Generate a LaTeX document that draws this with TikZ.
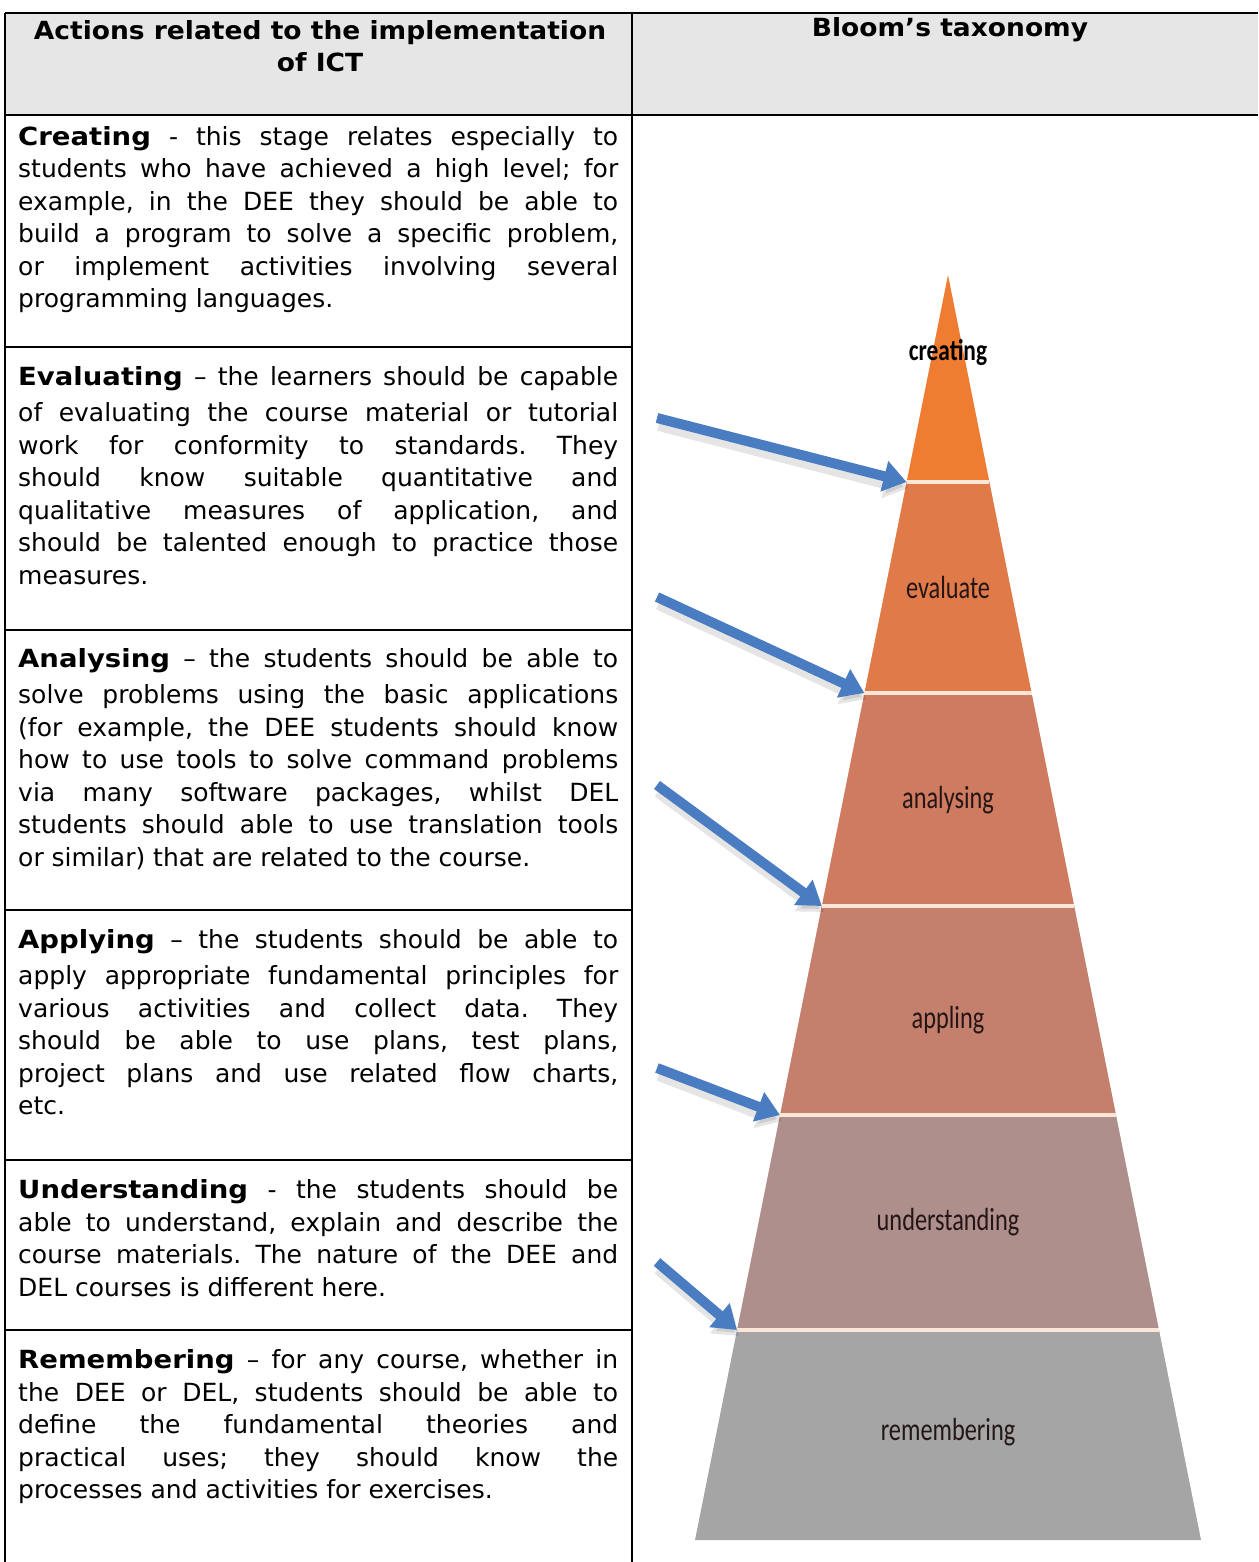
\documentclass[tikz,border=0pt]{standalone}
\usepackage{fontspec}
\setmainfont{DejaVu Sans}
\newfontfamily\lblfont{Carlito}
\usetikzlibrary{arrows.meta}
\definecolor{hdrgray}{HTML}{E6E6E6}
\definecolor{cCreate}{HTML}{EE7D32}
\definecolor{cEval}{HTML}{E07A49}
\definecolor{cAnal}{HTML}{CF7B60}
\definecolor{cAppl}{HTML}{C5806D}
\definecolor{cUnder}{HTML}{AF8F8C}
\definecolor{cRemem}{HTML}{A5A5A5}
\definecolor{sepline}{HTML}{FBE6D8}
\definecolor{arrowblue}{HTML}{4A7CC1}
\definecolor{lbltext}{HTML}{241616}
\frenchspacing
\newcommand\jline[1]{\makebox[600pt][s]{#1}}
\newcommand\lline[1]{\makebox[600pt][l]{#1}}
\newcommand\bw[1]{\scalebox{1.1}[1]{\textbf{#1}}}
\newcommand\hw[1]{\scalebox{1.06}[1]{#1}}
\tikzset{
  rule/.style={line width=2pt, black},
  body/.style={inner sep=0pt, anchor=north west, align=left, font=\fontsize{25}{32.5}\selectfont},
  hdr/.style={inner sep=0pt, align=center, font=\bfseries\fontsize{25}{32.5}\selectfont},
  lvl/.style={inner sep=0pt, text=lbltext, font=\lblfont\fontsize{32}{34}\selectfont},
  blarrow/.style={line width=10pt, arrowblue, -{Triangle[width=30pt,length=23pt]}},
  shadowarrow/.style={line width=14pt, black, opacity=0.10, -{Triangle[width=32pt,length=24pt]}}
}
\begin{document}
\begin{tikzpicture}[x=1pt,y=-1pt]
\useasboundingbox (0,0) rectangle (1258,1562);
\fill[white] (0,0) rectangle (1258,1562);
% header background
\fill[hdrgray] (5,13) rectangle (1258,115);
% table rules
\draw[rule] (5,13) -- (1258,13);
\draw[rule] (5,115) -- (1258,115);
\draw[rule] (5,13) -- (5,1562);
\draw[rule] (632,13) -- (632,1562);
\foreach \yy in {347,630,910,1160,1330} \draw[rule] (5,\yy) -- (632,\yy);

% header text
\node[hdr] (h1) at (320,46) {\hw{Actions related to the implementation}\\\hw{of ICT}};
\node[hdr] (h2) at (950,30) {\hw{Bloom’s taxonomy}};

% body text
\node[body] (tCreate) at (18,126) {%
\jline{\bw{Creating} - this stage relates especially to}\\
\jline{students who have achieved a high level; for}\\
\jline{example, in the DEE they should be able to}\\
\jline{build a program to solve a specific problem,}\\
\jline{or implement activities involving several}\\
\lline{programming languages.}};

\node[body] (tEval) at (18,366.5) {%
\jline{\bw{Evaluating} – the learners should be capable}\\[3.5pt]
\jline{of evaluating the course material or tutorial}\\
\jline{work for conformity to standards. They}\\
\jline{should know suitable quantitative and}\\
\jline{qualitative measures of application, and}\\
\jline{should be talented enough to practice those}\\
\lline{measures.}};

\node[body] (tAnal) at (18,648.5) {%
\jline{\bw{Analysing} – the students should be able to}\\[3.5pt]
\jline{solve problems using the basic applications}\\
\jline{(for example, the DEE students should know}\\
\jline{how to use tools to solve command problems}\\
\jline{via many software packages, whilst DEL}\\
\jline{students should able to use translation tools}\\
\lline{or similar) that are related to the course.}};

\node[body] (tAppl) at (18,929.5) {%
\jline{\bw{Applying} – the students should be able to}\\[3.5pt]
\jline{apply appropriate fundamental principles for}\\
\jline{various activities and collect data. They}\\
\jline{should be able to use plans, test plans,}\\
\jline{project plans and use related flow charts,}\\
\lline{etc.}};

\node[body] (tUnder) at (18,1179.5) {%
\jline{\bw{Understanding} - the students should be}\\
\jline{able to understand, explain and describe the}\\
\jline{course materials. The nature of the DEE and}\\
\lline{DEL courses is different here.}};

\node[body] (tRemem) at (18,1349.5) {%
\jline{\bw{Remembering} – for any course, whether in}\\
\jline{the DEE or DEL, students should be able to}\\
\jline{define the fundamental theories and}\\
\jline{practical uses; they should know the}\\
\lline{processes and activities for exercises.}};

% pyramid corners: half width = 0.2*(y-275)
\coordinate (apex) at (948,275);
\coordinate (L1) at (906.6,482);  \coordinate (R1) at (989.4,482);
\coordinate (L2) at (864.4,693);  \coordinate (R2) at (1031.6,693);
\coordinate (L3) at (821.8,906);  \coordinate (R3) at (1074.2,906);
\coordinate (L4) at (780,1115);   \coordinate (R4) at (1116,1115);
\coordinate (L5) at (737,1330);   \coordinate (R5) at (1159,1330);
\coordinate (L6) at (695,1540);   \coordinate (R6) at (1201,1540);

\fill[cCreate] (apex) -- (R1) -- (L1) -- cycle;
\fill[cEval] (L1) -- (R1) -- (R2) -- (L2) -- cycle;
\fill[cAnal] (L2) -- (R2) -- (R3) -- (L3) -- cycle;
\fill[cAppl] (L3) -- (R3) -- (R4) -- (L4) -- cycle;
\fill[cUnder] (L4) -- (R4) -- (R5) -- (L5) -- cycle;
\fill[cRemem] (L5) -- (R5) -- (R6) -- (L6) -- cycle;
\foreach \i in {1,...,5} \draw[sepline, line width=4pt] (L\i) -- (R\i);

% level labels
\node[lvl, font=\lblfont\bfseries\fontsize{30}{32}\selectfont, text=black] (lCreate) at (948,352) {\scalebox{0.78}[1]{creating}};
\node[lvl] (lEval) at (948,588) {\scalebox{0.76}[1]{evaluate}};
\node[lvl] (lAnal) at (948,800) {\scalebox{0.76}[1]{analysing}};
\node[lvl] (lAppl) at (948,1020) {\scalebox{0.76}[1]{appling}};
\node[lvl] (lUnder) at (948,1222) {\scalebox{0.76}[1]{understanding}};
\node[lvl] (lRemem) at (948,1432) {\scalebox{0.76}[1]{remembering}};

% arrows
\coordinate (s1) at (657,418);
\coordinate (s2) at (657,597);
\coordinate (s3) at (657,785);
\coordinate (s4) at (657,1068);
\coordinate (s5) at (657,1262);
\foreach \i in {1,...,5} {
  \draw[shadowarrow, transform canvas={shift={(2pt,-6pt)}}] (s\i) -- (L\i);
}
\foreach \i in {1,...,5} {
  \draw[blarrow] (s\i) -- (L\i);
}
\end{tikzpicture}
\end{document}
